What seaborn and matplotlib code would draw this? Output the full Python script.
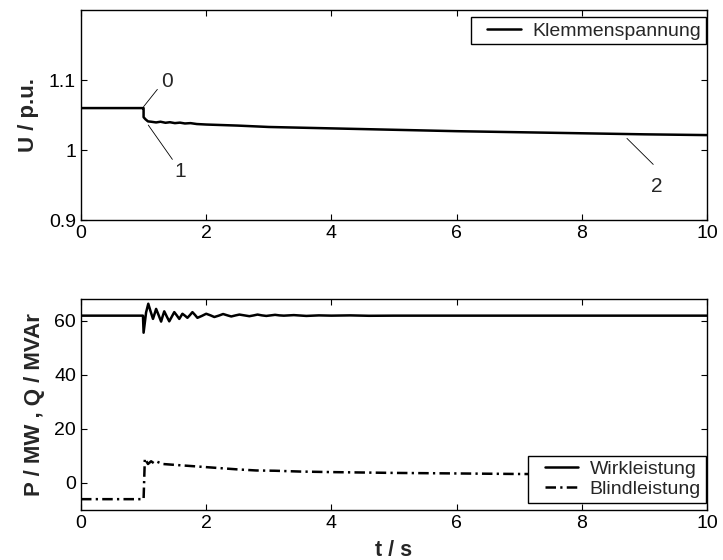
import numpy as np
import pandas as pd
import matplotlib
matplotlib.use("Agg")
import matplotlib.pyplot as plt
from matplotlib.legend_handler import HandlerLine2D
import seaborn as sns

# Terminal voltage (p.u.) over time (s)
t_u = [0.0, 0.99, 1.0, 1.0, 1.03, 1.07, 1.12, 1.2, 1.27, 1.35, 1.42, 1.5, 1.58,
       1.66, 1.75, 1.85, 2.0, 2.5, 3.0, 4.0, 5.0, 6.0, 7.0, 8.0, 9.0, 10.0]
u_pu = [1.06, 1.06, 1.06, 1.047, 1.044, 1.041, 1.0405, 1.0395, 1.0405, 1.039,
        1.0398, 1.0385, 1.0392, 1.038, 1.0385, 1.0372, 1.0365, 1.035, 1.033,
        1.031, 1.029, 1.027, 1.0255, 1.024, 1.0225, 1.0214]

# Active power P (MW)
t_p = [0.0, 0.99, 1.0, 1.04, 1.075, 1.11, 1.15, 1.175, 1.2, 1.24, 1.28, 1.305,
       1.33, 1.37, 1.41, 1.45, 1.49, 1.53, 1.57, 1.62, 1.66, 1.7, 1.74, 1.78,
       1.82, 1.86, 1.93, 2.0, 2.07, 2.13, 2.2, 2.27, 2.34, 2.4, 2.47, 2.53,
       2.61, 2.69, 2.76, 2.82, 2.89, 2.96, 3.03, 3.1, 3.17, 3.24, 3.4, 3.6,
       3.8, 4.0, 4.3, 4.6, 5.0, 10.0]
p_mw = [61.8, 61.8, 55.5, 63.0, 66.2, 63.5, 60.6, 62.4, 64.3, 62.0, 59.6, 61.6,
        63.4, 61.5, 59.7, 61.4, 63.1, 61.9, 60.6, 62.5, 61.8, 61.0, 62.0, 63.1,
        62.1, 61.0, 61.7, 62.5, 61.9, 61.3, 61.8, 62.4, 61.9, 61.5, 61.9, 62.2,
        61.9, 61.6, 61.9, 62.2, 61.9, 61.7, 61.9, 62.1, 61.9, 61.8, 62.0, 61.7,
        61.9, 61.8, 61.9, 61.75, 61.8, 61.8]

# Reactive power Q (MVAr)
t_q = [0.0, 0.99, 1.0, 1.02, 1.07, 1.12, 1.17, 1.22, 1.3, 1.6, 1.9, 2.2, 2.5,
       2.8, 3.1, 3.5, 4.0, 5.0, 6.0, 7.0, 8.0, 9.0, 10.0]
q_mvar = [-6.0, -6.0, -6.0, 9.0, 7.0, 8.0, 7.2, 7.8, 7.0, 6.5, 6.0, 5.5, 5.0,
          4.6, 4.5, 4.2, 4.0, 3.7, 3.5, 3.3, 3.2, 3.1, 3.0]

# Annotation labels on the voltage curve: (label, line start, line end, text pos)
marker_labels = ["0", "1", "2"]
marker_line_t = [(1.0, 1.22), (1.075, 1.46), (8.72, 9.14)]
marker_line_u = [(1.062, 1.0867), (1.0357, 0.9867), (1.0167, 0.9795)]
marker_text_t = [1.38, 1.58, 9.19]
marker_text_u = [1.0976, 0.969, 0.9476]

df_u = pd.DataFrame({"t": t_u, "U": u_pu})
df_p = pd.DataFrame({"t": t_p, "val": p_mw})
df_q = pd.DataFrame({"t": t_q, "val": q_mvar})

sns.set_theme(style="ticks")
plt.rcParams["font.family"] = ["Liberation Sans", "DejaVu Sans"]
plt.rcParams["axes.linewidth"] = 1.0


class InsetLine(HandlerLine2D):
    """Legend line handler that leaves a gap on the left of the sample line."""

    def __init__(self, gap=0.22, **kw):
        super().__init__(**kw)
        self.gap = gap

    def create_artists(self, legend, orig_handle, xdescent, ydescent, width,
                       height, fontsize, trans):
        arts = super().create_artists(legend, orig_handle, xdescent, ydescent,
                                      width, height, fontsize, trans)
        for a in arts:
            xd = np.asarray(a.get_xdata(), dtype=float)
            if xd.size >= 2:
                x0, x1 = xd.min(), xd.max()
                a.set_xdata(x0 + self.gap * (x1 - x0) + (xd - x0) * (1 - self.gap))
        return arts


fig = plt.figure(figsize=(7.23, 5.6), dpi=100)
ax1 = fig.add_axes([0.112, 0.607, 0.866, 0.375])
ax2 = fig.add_axes([0.112, 0.0893, 0.866, 0.377])

lw = 1.8
sns.lineplot(data=df_u, x="t", y="U", ax=ax1, color="black", lw=lw,
             label="Klemmenspannung", sort=False, estimator=None)
sns.lineplot(data=df_p, x="t", y="val", ax=ax2, color="black", lw=lw,
             label="Wirkleistung", sort=False, estimator=None)
sns.lineplot(data=df_q, x="t", y="val", ax=ax2, color="black", lw=lw,
             label="Blindleistung", sort=False, estimator=None,
             linestyle=(0, (4.2, 1.7, 0.9, 1.7)))

for lbl, lt, lu, tt, tu in zip(marker_labels, marker_line_t, marker_line_u,
                               marker_text_t, marker_text_u):
    ax1.plot(lt, lu, color="black", lw=0.6)
    ax1.text(tt, tu, lbl, ha="center", va="center", fontsize=15)

ax1.set_xlim(0, 10)
ax1.set_ylim(0.9, 1.2)
ax1.set_yticks([0.9, 1.0, 1.1])
ax1.set_yticklabels(["0.9", "1", "1.1"])
ax2.set_xlim(0, 10)
ax2.set_ylim(-10, 68)
ax2.set_yticks([0, 20, 40, 60])

for ax in (ax1, ax2):
    ax.set_xticks([0, 2, 4, 6, 8, 10])
    ax.tick_params(direction="in", length=4.5, width=0.8, top=True, right=True,
                   labelsize=14, pad=3.5, color="black", labelcolor="black")
    for s in ax.spines.values():
        s.set_visible(True)
        s.set_color("black")
    ax.set_facecolor("white")

ax1.set_xlabel("")
ax1.set_ylabel("U / p.u.", fontsize=16, fontweight="bold", labelpad=7)
ax2.set_xlabel("t / s", fontsize=15.5, fontweight="bold", labelpad=6)
ax2.set_ylabel("P / MW , Q / MVAr", fontsize=16, fontweight="bold", labelpad=7)

leg_kw = dict(fontsize=14, frameon=True, fancybox=False, edgecolor="black",
              framealpha=1, borderaxespad=0, borderpad=0.25, handlelength=2.3,
              handletextpad=0.6, labelspacing=0.1,
              handler_map={plt.Line2D: InsetLine(gap=0.25)})
l1 = ax1.legend(loc="upper right", bbox_to_anchor=(0.9984, 0.9667), **leg_kw)
l2 = ax2.legend(loc="lower right", bbox_to_anchor=(0.998, 0.0346), **leg_kw)
for lg in (l1, l2):
    lg.get_frame().set_linewidth(1.0)

fig.savefig("out.png", dpi=100, facecolor="white")
